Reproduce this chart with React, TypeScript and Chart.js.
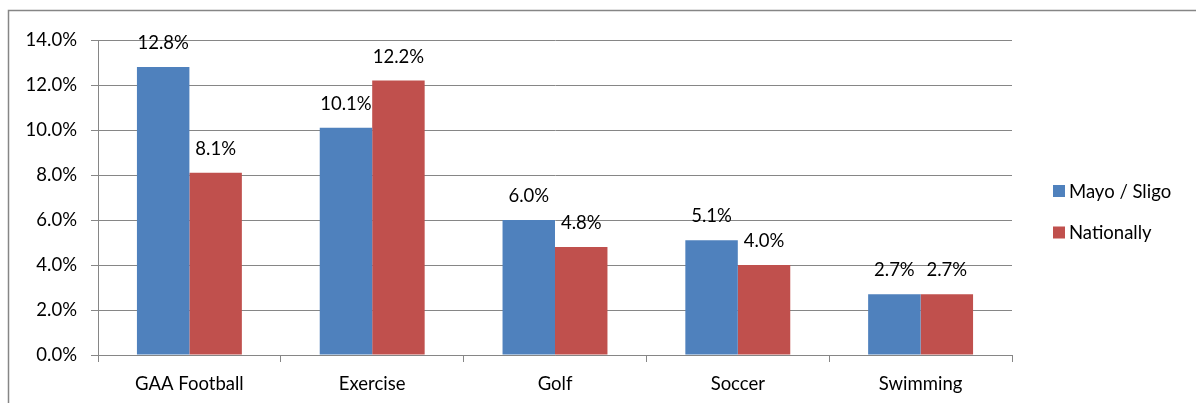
import { useEffect, useRef } from "react";
import { Chart, registerables } from "chart.js";

Chart.register(...registerables);

// Share of respondents by activity
const categories = ["GAA Football", "Exercise", "Golf", "Soccer", "Swimming"];
const mayoSligo = [12.8, 10.1, 6.0, 5.1, 2.7];
const nationally = [8.1, 12.2, 4.8, 4.0, 2.7];
const seriesNames = ["Mayo / Sligo", "Nationally"];
const seriesColors = ["#4F81BD", "#C0504D"];
const yMin = 0;
const yMax = 14;
const yStep = 2;

const FONT = "Lato, 'Liberation Sans', sans-serif";
const FONT_SIZE = 18.5;
const GRID = "#868686";
const W = 1196;
const H = 403;

const pct = (v: number) => v.toFixed(1) + "%";

// Outer frame of the chart object (top and left edges)
const framePlugin = {
  id: "frame",
  beforeDraw(chart: Chart) {
    const ctx = chart.ctx;
    ctx.save();
    ctx.strokeStyle = GRID;
    ctx.lineWidth = 1.5;
    ctx.beginPath();
    ctx.moveTo(8.5, H);
    ctx.lineTo(8.5, 10.5);
    ctx.lineTo(W, 10.5);
    ctx.stroke();
    ctx.restore();
  },
};

// Value labels above each bar
const valueLabels = {
  id: "valueLabels",
  afterDatasetsDraw(chart: Chart) {
    const ctx = chart.ctx;
    ctx.save();
    ctx.font = `${FONT_SIZE}px ${FONT}`;
    ctx.fillStyle = "#000";
    ctx.textAlign = "center";
    ctx.textBaseline = "alphabetic";
    chart.data.datasets.forEach((ds, i) => {
      const meta = chart.getDatasetMeta(i);
      meta.data.forEach((bar: any, j: number) => {
        const v = ds.data[j] as number;
        ctx.fillText(pct(v), bar.x, bar.y - 18);
      });
    });
    ctx.restore();
  },
};

// Legend on the right, stacked vertically
const sideLegend = {
  id: "sideLegend",
  afterDraw(chart: Chart) {
    const ctx = chart.ctx;
    ctx.save();
    ctx.font = `${FONT_SIZE}px ${FONT}`;
    ctx.textAlign = "left";
    ctx.textBaseline = "middle";
    seriesNames.forEach((name, i) => {
      const cy = 191 + i * 41.5;
      ctx.fillStyle = seriesColors[i];
      ctx.fillRect(1053, cy - 6, 12, 12);
      ctx.fillStyle = "#000";
      ctx.fillText(name, 1069, cy + 1);
    });
    ctx.restore();
  },
};

export default function App() {
  const ref = useRef<HTMLCanvasElement | null>(null);

  useEffect(() => {
    if (!ref.current) return;
    const chart = new Chart(ref.current, {
      type: "bar",
      data: {
        labels: categories,
        datasets: [
          { label: seriesNames[0], data: mayoSligo, backgroundColor: seriesColors[0] },
          { label: seriesNames[1], data: nationally, backgroundColor: seriesColors[1] },
        ],
      },
      options: {
        responsive: false,
        animation: false,
        layout: { padding: { left: 0, right: 184, top: 40, bottom: 0 } },
        datasets: {
          bar: { barPercentage: 1, categoryPercentage: 0.574 },
        },
        plugins: {
          legend: { display: false },
          tooltip: { enabled: false },
        },
        scales: {
          x: {
            offset: true,
            grid: {
              offset: true,
              drawOnChartArea: false,
              drawTicks: true,
              tickLength: 7,
              color: GRID,
              lineWidth: 1,
            },
            border: { color: GRID, width: 1 },
            ticks: {
              color: "#000",
              font: { family: FONT, size: FONT_SIZE },
              padding: 11,
              maxRotation: 0,
            },
            afterFit(scale: any) {
              scale.height = 48;
            },
          },
          y: {
            min: yMin,
            max: yMax,
            grid: { color: GRID, lineWidth: 1, tickLength: 7, drawTicks: true },
            border: { color: GRID, width: 1 },
            ticks: {
              stepSize: yStep,
              color: "#000",
              font: { family: FONT, size: FONT_SIZE },
              padding: 14,
              callback: (v: any) => pct(Number(v)),
            },
            afterFit(scale: any) {
              scale.width = 98;
            },
          },
        },
      },
      plugins: [framePlugin, valueLabels, sideLegend],
    });
    return () => chart.destroy();
  }, []);

  return (
    <div style={{ position: "absolute", left: 0, top: 0, width: W, height: H, background: "#fff" }}>
      <canvas ref={ref} width={W} height={H} style={{ display: "block", width: W, height: H }} />
    </div>
  );
}
